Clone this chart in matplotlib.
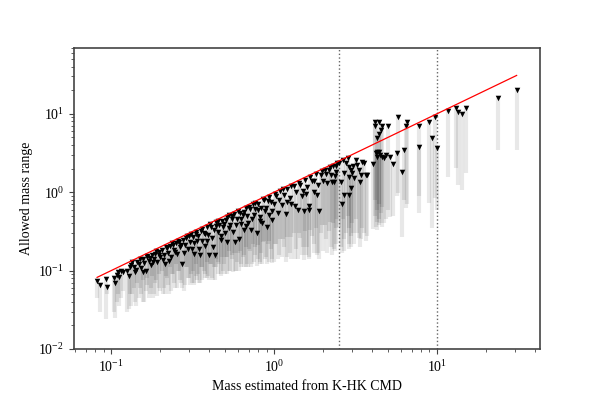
import matplotlib
matplotlib.use("Agg")
import matplotlib.pyplot as plt
import numpy as np

plt.rcParams['font.family'] = ['Liberation Serif', 'DejaVu Serif']
plt.rcParams['mathtext.fontset'] = 'stix'

# mass from K-HK CMD, top of allowed range (marker), bottom of allowed range
mass_low = [0.082, 0.085, 0.093, 0.094, 0.104, 0.106, 0.108, 0.110, 0.112, 0.115,
            0.118, 0.125, 0.128, 0.130]
upper_low = [0.074, 0.066, 0.078, 0.062, 0.080, 0.070, 0.088, 0.095, 0.083, 0.100,
             0.097, 0.100, 0.085, 0.110]
lower_low = [0.045, 0.030, 0.024, 0.050, 0.030, 0.025, 0.040, 0.050, 0.035, 0.045,
             0.055, 0.030, 0.032, 0.050]

mass_b = [0.132, 0.138, 0.141, 0.145, 0.149, 0.152, 0.156, 0.160, 0.163, 0.167,
          0.171, 0.175, 0.179, 0.183, 0.187, 0.192, 0.196, 0.201, 0.205, 0.210,
          0.215, 0.219, 0.224, 0.229, 0.234, 0.239, 0.244, 0.250, 0.255, 0.260,
          0.266, 0.271, 0.277, 0.283, 0.289, 0.295,
          0.135, 0.143, 0.150, 0.158, 0.165, 0.173, 0.181, 0.189, 0.198, 0.207,
          0.217, 0.226, 0.236, 0.247, 0.258, 0.268, 0.280, 0.292]
upper_b = [0.118, 0.112, 0.095, 0.128, 0.121, 0.108, 0.140, 0.125, 0.100, 0.148,
           0.131, 0.118, 0.160, 0.140, 0.165, 0.128, 0.172, 0.150, 0.185, 0.158,
           0.120, 0.195, 0.170, 0.205, 0.150, 0.210, 0.185, 0.225, 0.165, 0.230,
           0.200, 0.121, 0.245, 0.215, 0.260, 0.190,
           0.128, 0.103, 0.140, 0.095, 0.155, 0.144, 0.127, 0.180, 0.158, 0.137,
           0.202, 0.131, 0.224, 0.173, 0.240, 0.214, 0.168, 0.277]
lower_b = [0.035, 0.060, 0.040, 0.070, 0.045, 0.050, 0.075, 0.040, 0.055, 0.080,
           0.045, 0.060, 0.085, 0.050, 0.070, 0.048, 0.090, 0.055, 0.100, 0.060,
           0.050, 0.080, 0.065, 0.110, 0.055, 0.090, 0.070, 0.120, 0.060, 0.100,
           0.075, 0.060, 0.130, 0.065, 0.110, 0.080,
           0.050, 0.035, 0.060, 0.040, 0.065, 0.050, 0.045, 0.075, 0.060, 0.050,
           0.085, 0.050, 0.090, 0.060, 0.100, 0.070, 0.055, 0.110]

mass_c = [0.300, 0.306, 0.312, 0.318, 0.324, 0.330, 0.337, 0.343, 0.350, 0.357,
          0.364, 0.371, 0.379, 0.386, 0.394, 0.401, 0.409, 0.417, 0.426, 0.434,
          0.443, 0.451, 0.460, 0.470, 0.479, 0.488, 0.498, 0.508, 0.518, 0.528,
          0.539, 0.550, 0.561, 0.572, 0.583, 0.595, 0.607, 0.619, 0.631, 0.644,
          0.657, 0.670, 0.683, 0.697, 0.711, 0.725, 0.740, 0.755, 0.770, 0.785,
          0.801, 0.817, 0.833, 0.850, 0.867, 0.884, 0.902, 0.920, 0.938, 0.957,
          0.976,
          0.309, 0.321, 0.333, 0.346, 0.360, 0.375, 0.390, 0.405, 0.421, 0.438,
          0.455, 0.474, 0.493, 0.513, 0.533, 0.555, 0.577, 0.600, 0.625, 0.650,
          0.676, 0.703, 0.732, 0.762, 0.793, 0.825, 0.858, 0.893, 0.929, 0.966]
upper_c = [0.276, 0.230, 0.187, 0.270, 0.162, 0.314, 0.236, 0.274, 0.158, 0.321,
           0.237, 0.304, 0.208, 0.359, 0.284, 0.160, 0.356, 0.259, 0.332, 0.156,
           0.416, 0.307, 0.382, 0.244, 0.431, 0.361, 0.299, 0.447, 0.233, 0.507,
           0.377, 0.451, 0.309, 0.521, 0.385, 0.458, 0.255, 0.551, 0.398, 0.515,
           0.329, 0.623, 0.492, 0.404, 0.604, 0.326, 0.703, 0.513, 0.616, 0.298,
           0.705, 0.490, 0.625, 0.408, 0.798, 0.575, 0.361, 0.782, 0.516, 0.746,
           0.439,
           0.297, 0.225, 0.293, 0.190, 0.338, 0.293, 0.242, 0.389, 0.202, 0.372,
           0.432, 0.275, 0.394, 0.482, 0.352, 0.500, 0.231, 0.570, 0.450, 0.559,
           0.372, 0.647, 0.461, 0.724, 0.587, 0.429, 0.824, 0.625, 0.873, 0.580]
lower_c = [0.080, 0.065, 0.070, 0.100, 0.065, 0.120, 0.075, 0.090, 0.070, 0.110,
           0.075, 0.100, 0.080, 0.130, 0.085, 0.075, 0.120, 0.080, 0.110, 0.075,
           0.140, 0.090, 0.120, 0.085, 0.150, 0.100, 0.090, 0.150, 0.090, 0.180,
           0.100, 0.140, 0.095, 0.170, 0.100, 0.130, 0.100, 0.180, 0.110, 0.150,
           0.110, 0.200, 0.120, 0.110, 0.180, 0.110, 0.220, 0.130, 0.160, 0.115,
           0.210, 0.130, 0.170, 0.120, 0.240, 0.140, 0.120, 0.220, 0.130, 0.190,
           0.125,
           0.090, 0.070, 0.085, 0.070, 0.110, 0.090, 0.080, 0.120, 0.075, 0.110,
           0.130, 0.090, 0.120, 0.150, 0.100, 0.160, 0.100, 0.170, 0.120, 0.160,
           0.110, 0.190, 0.120, 0.200, 0.140, 0.120, 0.230, 0.150, 0.240, 0.140]

mass_d = [1.00, 1.03, 1.06, 1.09, 1.12, 1.15, 1.18, 1.21, 1.25, 1.28,
          1.32, 1.36, 1.40, 1.44, 1.48, 1.52, 1.56, 1.60, 1.65, 1.70,
          1.75, 1.80, 1.85, 1.90, 1.95, 2.00, 2.06, 2.12, 2.18, 2.24,
          2.30, 2.36, 2.42, 2.27, 2.40,
          1.015, 1.075, 1.135, 1.195, 1.265, 1.34, 1.42, 1.50, 1.58, 1.675,
          1.77, 1.875, 1.98, 2.09, 2.21, 2.33, 2.45, 1.63]
upper_d = [0.700, 0.906, 0.551, 1.036, 0.694, 0.920, 0.531, 1.089, 0.850, 0.717,
           1.214, 1.006, 0.588, 1.224, 0.888, 0.578, 1.451, 1.152, 0.660, 1.394,
           1.015, 1.710, 0.925, 0.570, 1.677, 1.400, 1.895, 1.314, 1.918, 1.680,
           2.185, 1.605, 2.178, 1.350, 1.830,
           0.944, 0.806, 1.090, 0.741, 1.189, 0.670, 1.306, 1.050, 0.948, 1.575,
           1.381, 1.219, 1.881, 1.714, 2.122, 1.351, 2.377, 0.587]
lower_d = [0.130, 0.220, 0.140, 0.250, 0.150, 0.200, 0.130, 0.270, 0.170, 0.140,
           0.300, 0.190, 0.140, 0.260, 0.160, 0.135, 0.320, 0.200, 0.140, 0.280,
           0.170, 0.350, 0.160, 0.140, 0.300, 0.180, 0.380, 0.170, 0.320, 0.200,
           0.400, 0.180, 0.350, 0.160, 0.220,
           0.220, 0.160, 0.250, 0.150, 0.270, 0.140, 0.300, 0.200, 0.160, 0.330,
           0.220, 0.170, 0.380, 0.250, 0.420, 0.190, 0.450, 0.150]

mass_e = [2.49, 2.58, 2.61, 2.64, 2.70, 2.70, 2.76, 2.83, 2.87, 2.89,
          2.89, 2.96, 2.96, 3.03, 3.06, 3.11, 3.18, 3.25, 3.33, 3.38,
          3.41, 3.49, 3.57, 3.66, 3.74]
upper_e = [2.34, 1.37, 0.71, 2.58, 1.75, 0.92, 2.34, 2.71, 1.58, 2.12,
           0.92, 1.92, 1.12, 1.75, 2.17, 1.51, 2.58, 2.23, 1.92, 1.34,
           1.66, 2.46, 2.34, 1.66, 1.66]
lower_e = [0.36, 0.20, 0.17, 0.45, 0.25, 0.18, 0.30, 0.50, 0.22, 0.35,
           0.19, 0.28, 0.20, 0.40, 0.30, 0.22, 0.45, 0.30, 0.26, 0.20,
           0.25, 0.35, 0.30, 0.24, 0.28]

mass_f = [4.07, 4.15, 4.15, 4.21, 4.27, 4.31, 4.31, 4.39, 4.43, 4.43,
          4.45, 4.52, 4.62, 4.62, 4.73, 4.84, 5.00, 5.15, 5.39]
upper_f = [2.30, 7.95, 7.00, 3.14, 3.30, 4.88, 2.84, 7.95, 5.54, 3.30,
           2.99, 6.24, 7.00, 2.84, 2.77, 2.99, 7.00, 2.80, 2.30]
lower_f = [0.34, 0.80, 0.50, 0.36, 0.42, 0.60, 0.33, 0.70, 0.45, 0.38,
           0.40, 0.55, 0.65, 0.36, 0.40, 0.45, 0.60, 0.48, 0.50]

mass_g = [5.70, 5.76, 6.10, 6.30, 6.50, 6.60, 7.77, 7.77, 8.90, 9.30,
          9.80, 10.05, 11.7, 13.2, 13.5, 14.3, 15.1, 23.8, 30.9]
upper_g = [3.20, 9.05, 1.83, 3.46, 7.07, 7.90, 6.90, 3.75, 7.95, 4.90,
           9.05, 3.65, 11.0, 12.0, 10.6, 9.95, 12.0, 16.0, 20.2]
lower_g = [0.90, 0.98, 0.27, 0.80, 0.63, 0.70, 0.54, 0.90, 0.73, 0.35,
           0.85, 0.60, 1.58, 2.04, 1.24, 1.07, 1.75, 3.46, 3.46]

mass = np.array(mass_low + mass_b + mass_c + mass_d + mass_e + mass_f + mass_g)
upper = np.array(upper_low + upper_b + upper_c + upper_d + upper_e + upper_f + upper_g)
lower = np.array(lower_low + lower_b + lower_c + lower_d + lower_e + lower_f + lower_g)

fig = plt.figure(figsize=(6, 4), dpi=100)
ax = fig.add_axes([0.123, 0.1275, 0.777, 0.7535])

ax.vlines(mass, lower, upper, color='k', alpha=0.09, lw=3)
ax.scatter(mass, upper, marker='v', color='k', s=16, zorder=3, linewidths=0)
ends = [mass.min(), mass.max()]
ax.plot(ends, ends, color='red', lw=0.9, zorder=4)
ax.axvline(2.5, color='0.4', ls=':', lw=1)
ax.axvline(10, color='0.4', ls=':', lw=1)

ax.set_xscale('log')
ax.set_yscale('log')
ax.set_xlim(0.059, 43)
ax.set_ylim(0.01, 70)
ax.set_xlabel('Mass estimated from K-HK CMD')
ax.set_ylabel('Allowed mass range')

for sp in ax.spines.values():
    sp.set_color('#444444')
    sp.set_linewidth(1.2)
ax.tick_params(which='both', color='#444444')

fig.savefig('out.png', dpi=100)
